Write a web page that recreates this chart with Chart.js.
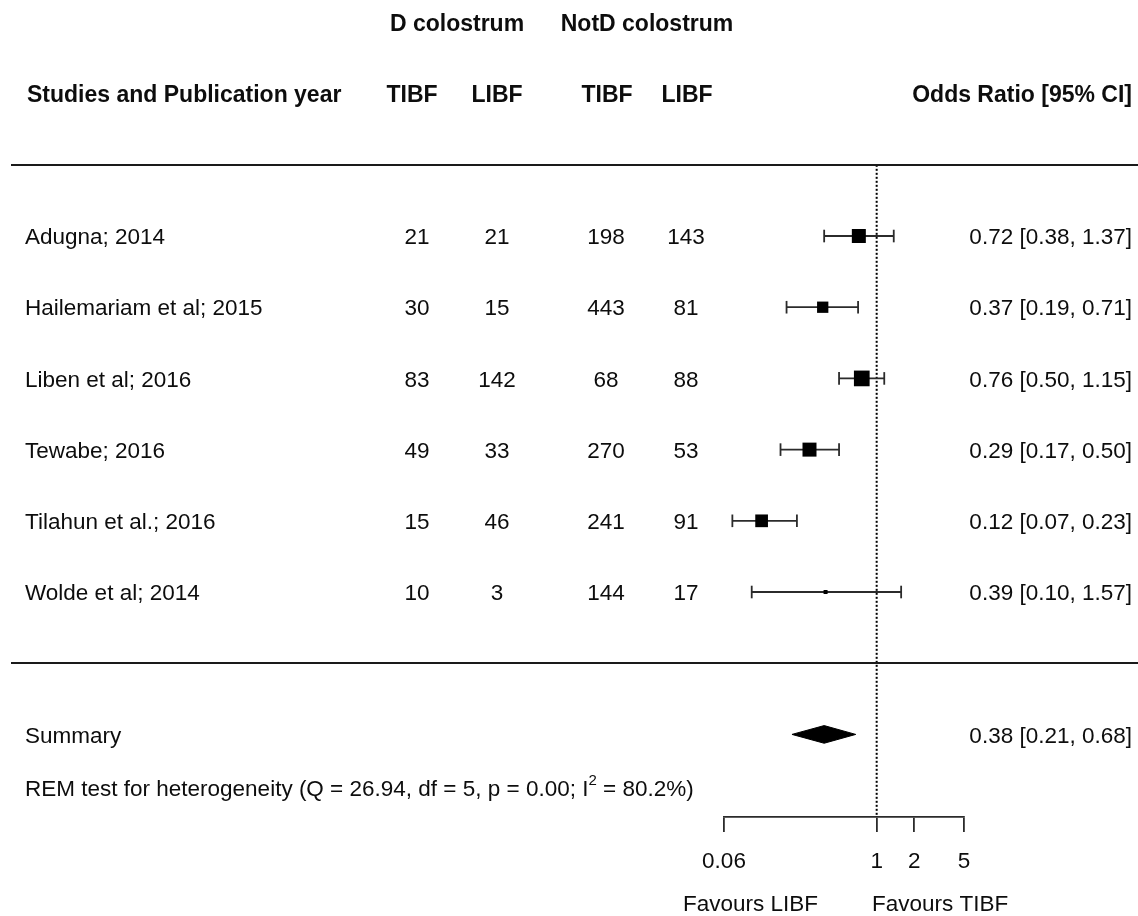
<!DOCTYPE html>
<html>
<head>
<meta charset="utf-8">
<script src="https://cdn.jsdelivr.net/npm/chart.js@4.4.1/dist/chart.umd.min.js"></script>
<style>
  html, body { margin: 0; padding: 0; background: #ffffff; }
  canvas { display: block; }
</style>
</head>
<body>
<canvas id="forest" width="1138" height="916"></canvas>
<script>
// ---- study data ----
const studies = [
  'Adugna; 2014',
  'Hailemariam et al; 2015',
  'Liben et al; 2016',
  'Tewabe; 2016',
  'Tilahun et al.; 2016',
  'Wolde et al; 2014'
];
const dTIBF    = [21, 30, 83, 49, 15, 10];
const dLIBF    = [21, 15, 142, 33, 46, 3];
const notdTIBF = [198, 443, 68, 270, 241, 144];
const notdLIBF = [143, 81, 88, 53, 91, 17];
const oddsRatio = [0.72, 0.37, 0.76, 0.29, 0.12, 0.39];
const ciLower   = [0.38, 0.19, 0.50, 0.17, 0.07, 0.10];
const ciUpper   = [1.37, 0.71, 1.15, 0.50, 0.23, 1.57];
const studyWeight = [14, 11.3, 15.7, 14, 12.7, 4];   // relative weights, shown as box size

const summaryEstimate = [0.38, 0.21, 0.68];           // OR, lower, upper
const heterogeneity = ['26.94', '5', '0.00', '80.2']; // Q, df, p, I^2

const tickValues = [0.06, 1, 2, 5];
const tickLabels = ['0.06', '1', '2', '5'];

// ---- layout ----
const FONT = '"Liberation Sans", Arial, Helvetica, sans-serif';
const TEXT = '#0d0d0d';
const INK = '#2b2b2b';
const studyRows = studies.map((_, i) => studies.length - i);   // 6 .. 1
const summaryRow = -1;
const Y_MIN = -2.16, Y_MAX = 9.315;
const TEXT_SHIFT = 2;   // optical centring of text on its row
const col = { name: 25, dT: 417, dL: 497, nT: 606, nL: 686, right: 1132, dHead: 457, nHead: 647 };
const fmt = v => v.toFixed(2);
const ciText = (e, l, u) => `${fmt(e)} [${fmt(l)}, ${fmt(u)}]`;

// confidence interval whiskers, one line per study
const ciDatasets = studies.map((s, i) => ({
  type: 'line',
  label: s,
  data: [{ x: ciLower[i], y: studyRows[i] }, { x: ciUpper[i], y: studyRows[i] }],
  borderColor: INK,
  borderWidth: 1.8,
  pointStyle: 'line',
  rotation: 90,
  pointRadius: 6.3,
  pointBorderColor: INK,
  pointBorderWidth: 1.8,
  pointBackgroundColor: INK,
  fill: false,
  order: 2
}));

const boxDataset = {
  type: 'scatter',
  label: 'estimate',
  data: studies.map((s, i) => ({ x: oddsRatio[i], y: studyRows[i] })),
  pointStyle: 'rect',
  pointRadius: studyWeight.map(w => w / Math.SQRT2),
  backgroundColor: '#000000',
  borderColor: '#000000',
  borderWidth: 0,
  order: 1
};

const DIAMOND_HALF = 0.124; // in row units
const diamondDataset = {
  type: 'line',
  label: 'summary',
  data: [
    { x: summaryEstimate[1], y: summaryRow },
    { x: summaryEstimate[0], y: summaryRow + DIAMOND_HALF },
    { x: summaryEstimate[2], y: summaryRow },
    { x: summaryEstimate[0], y: summaryRow - DIAMOND_HALF },
    { x: summaryEstimate[1], y: summaryRow }
  ],
  borderColor: '#000000',
  borderWidth: 1,
  backgroundColor: '#000000',
  fill: 'shape',
  pointRadius: 0,
  tension: 0,
  order: 1
};

const nullLine = {
  type: 'line',
  label: 'no effect',
  data: [{ x: 1, y: 7 }, { x: 1, y: Y_MIN }],
  borderColor: '#000000',
  borderWidth: 2,
  borderDash: [2, 2],
  pointRadius: 0,
  fill: false,
  order: 3
};

// table text, header and rules
const tablePlugin = {
  id: 'forestTable',
  afterDraw(chart) {
    const ctx = chart.ctx;
    const ys = chart.scales.y;
    const yp = r => ys.getPixelForValue(r);
    const yt = r => yp(r) + TEXT_SHIFT;
    const reg = `22.5px ${FONT}`;
    const bold = `bold 23px ${FONT}`;
    ctx.save();
    ctx.fillStyle = TEXT;
    ctx.textBaseline = 'middle';

    // horizontal rules
    ctx.strokeStyle = '#1a1a1a';
    ctx.lineWidth = 2;
    [7, 0].forEach(r => {
      const y = Math.round(yp(r));
      ctx.beginPath();
      ctx.moveTo(11, y);
      ctx.lineTo(1138, y);
      ctx.stroke();
    });

    // header
    ctx.font = bold;
    ctx.textAlign = 'center';
    ctx.fillText('D colostrum', col.dHead, yt(9));
    ctx.fillText('NotD colostrum', col.nHead, yt(9));
    ctx.textAlign = 'left';
    ctx.fillText('Studies and Publication year', 27, yt(8));
    ctx.textAlign = 'center';
    ctx.fillText('TIBF', 412, yt(8));
    ctx.fillText('LIBF', col.dL, yt(8));
    ctx.fillText('TIBF', 607, yt(8));
    ctx.fillText('LIBF', 687, yt(8));
    ctx.textAlign = 'right';
    ctx.fillText('Odds Ratio [95% CI]', col.right, yt(8));

    // study rows
    ctx.font = reg;
    studies.forEach((s, i) => {
      const y = yt(studyRows[i]);
      ctx.textAlign = 'left';
      ctx.fillText(s, col.name, y);
      ctx.textAlign = 'center';
      ctx.fillText(String(dTIBF[i]), col.dT, y);
      ctx.fillText(String(dLIBF[i]), col.dL, y);
      ctx.fillText(String(notdTIBF[i]), col.nT, y);
      ctx.fillText(String(notdLIBF[i]), col.nL, y);
      ctx.textAlign = 'right';
      ctx.fillText(ciText(oddsRatio[i], ciLower[i], ciUpper[i]), col.right, y);
    });

    // summary
    ctx.textAlign = 'left';
    ctx.fillText('Summary', col.name, yt(summaryRow));
    ctx.textAlign = 'right';
    ctx.fillText(ciText(summaryEstimate[0], summaryEstimate[1], summaryEstimate[2]), col.right, yt(summaryRow));

    // heterogeneity statement with superscript
    ctx.textAlign = 'left';
    const yh = yt(-1.75);
    const part1 = `REM test for heterogeneity (Q = ${heterogeneity[0]}, df = ${heterogeneity[1]}, p = ${heterogeneity[2]}; I`;
    const part2 = ` = ${heterogeneity[3]}%)`;
    let x = col.name;
    ctx.fillText(part1, x, yh);
    x += ctx.measureText(part1).width;
    ctx.font = `15px ${FONT}`;
    ctx.fillText('2', x, yh - 9);
    x += ctx.measureText('2').width;
    ctx.font = reg;
    ctx.fillText(part2, x, yh);

    // favours labels
    const yf = yt(-3.37);
    ctx.textAlign = 'right';
    ctx.fillText('Favours LIBF', 818, yf);
    ctx.textAlign = 'left';
    ctx.fillText('Favours TIBF', 872, yf);
    ctx.restore();
  }
};

new Chart(document.getElementById('forest'), {
  type: 'scatter',
  data: { datasets: [nullLine, ...ciDatasets, boxDataset, diamondDataset] },
  options: {
    responsive: false,
    animation: false,
    events: [],
    layout: { autoPadding: false, padding: { left: 724, right: 174, top: 0, bottom: 0 } },
    plugins: { legend: { display: false }, tooltip: { enabled: false } },
    scales: {
      x: {
        type: 'logarithmic',
        position: 'bottom',
        min: tickValues[0],
        max: tickValues[tickValues.length - 1],
        afterBuildTicks: s => { s.ticks = tickValues.map(v => ({ value: v })); },
        afterFit: s => { s.height = 99; },
        border: { display: true, color: INK, width: 1.8 },
        grid: { display: true, drawOnChartArea: false, drawTicks: true, tickLength: 15, color: INK, lineWidth: 1.8 },
        ticks: {
          autoSkip: false,
          maxRotation: 0,
          padding: 16,
          color: TEXT,
          font: { family: FONT, size: 22.5 },
          callback: (v, i) => tickLabels[i]
        }
      },
      y: {
        type: 'linear',
        display: false,
        min: Y_MIN,
        max: Y_MAX
      }
    }
  },
  plugins: [tablePlugin]
});
</script>
</body>
</html>
